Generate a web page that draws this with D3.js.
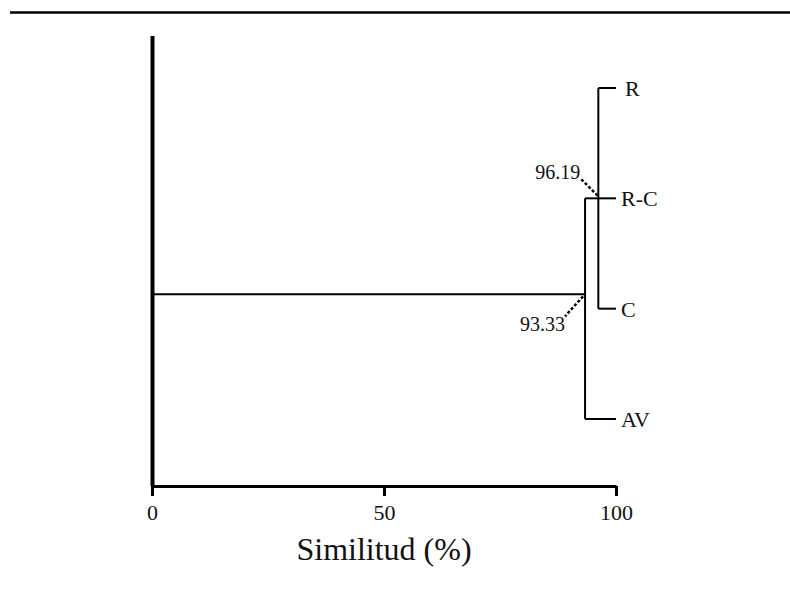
<!DOCTYPE html>
<html>
<head>
<meta charset="utf-8">
<script src="https://cdn.jsdelivr.net/npm/d3@7"></script>
<style>
  body { margin: 0; background: #fff; }
  svg { display: block; font-family: "Liberation Serif", "Times New Roman", serif; }
</style>
</head>
<body>
<div id="chart"></div>
<script>
// leaves, top to bottom
var leaves = ["R", "R-C", "C", "AV"];
// clusters: members and similarity (%) at which they join
var clusterNames = ["RC", "root"];
var clusterSim = [96.19, 93.33];
var clusterMembers = [["R", "R-C", "C"], ["RC", "AV"]];
var tickValues = [0, 50, 100];

var width = 790, height = 590;

var svg = d3.select("#chart").append("svg")
    .attr("width", width)
    .attr("height", height);

// top rule
svg.append("line")
    .attr("x1", 10).attr("x2", width)
    .attr("y1", 12.5).attr("y2", 12.5)
    .attr("stroke", "#000")
    .attr("stroke-width", 2.5);

var x = d3.scaleLinear().domain([0, 100]).range([152, 616]);
var y = d3.scalePoint().domain(leaves).range([88, 419]);
var axisY = 486;

// left axis line
svg.append("line")
    .attr("x1", 152.5).attr("x2", 152.5)
    .attr("y1", 36).attr("y2", axisY)
    .attr("stroke", "#000")
    .attr("stroke-width", 4);

// x axis
var xAxis = svg.append("g")
    .attr("transform", "translate(0," + axisY + ")")
    .call(d3.axisBottom(x).tickValues(tickValues).tickSize(10).tickSizeOuter(0).tickPadding(8));
xAxis.select(".domain").attr("stroke", "#000").attr("stroke-width", 3);
xAxis.selectAll(".tick line").attr("stroke", "#000").attr("stroke-width", 3);
xAxis.selectAll(".tick text")
    .style("font-family", "'Liberation Serif', serif")
    .style("font-size", "22px")
    .attr("fill", "#111");

svg.append("text")
    .attr("x", x(50))
    .attr("y", 560)
    .attr("text-anchor", "middle")
    .style("font-size", "32px")
    .attr("fill", "#111")
    .text("Similitud (%)");

// dendrogram
var pos = {};
leaves.forEach(function(l) { pos[l] = { x: x(100), y: y(l) }; });

var g = svg.append("g")
    .attr("fill", "none")
    .attr("stroke", "#000")
    .attr("stroke-width", 2);

// leaf stubs
leaves.forEach(function(l) {
    var cx = l === "AV" ? x(clusterSim[1]) : x(clusterSim[0]);
    g.append("line")
        .attr("x1", cx).attr("x2", pos[l].x)
        .attr("y1", pos[l].y).attr("y2", pos[l].y);
    svg.append("text")
        .attr("x", pos[l].x + (l === "R" ? 9 : 5))
        .attr("y", pos[l].y + 8)
        .style("font-size", "22px")
        .attr("fill", "#111")
        .text(l);
});

// stem offsets (row units) where each cluster is drawn
var stemRow = { RC: 1, root: 1.87 };
var rowStep = y.step();

clusterNames.forEach(function(name, i) {
    var cx = x(clusterSim[i]);
    var ys = clusterMembers[i].map(function(m) { return pos[m].y; });
    g.append("line")
        .attr("x1", cx).attr("x2", cx)
        .attr("y1", d3.min(ys)).attr("y2", d3.max(ys));
    pos[name] = { x: cx, y: y.range()[0] + stemRow[name] * rowStep };
});

// connector from root to the RC cluster
g.append("line")
    .attr("x1", pos.root.x).attr("x2", pos.RC.x)
    .attr("y1", pos.RC.y).attr("y2", pos.RC.y);

// root branch from the axis
g.append("line")
    .attr("x1", 152).attr("x2", pos.root.x)
    .attr("y1", pos.root.y).attr("y2", pos.root.y);

// similarity labels with dotted leaders
var rc = pos.RC;
g.append("line")
    .attr("x1", rc.x - 17).attr("y1", rc.y - 19)
    .attr("x2", rc.x).attr("y2", rc.y - 2)
    .attr("stroke-width", 2.5)
    .attr("stroke-dasharray", "3,2");
svg.append("text")
    .attr("x", rc.x - 18).attr("y", rc.y - 19)
    .attr("text-anchor", "end")
    .style("font-size", "20px")
    .attr("fill", "#111")
    .text(clusterSim[0].toFixed(2));

var rt = pos.root;
g.append("line")
    .attr("x1", rt.x - 2).attr("y1", rt.y + 2)
    .attr("x2", rt.x - 20).attr("y2", rt.y + 22)
    .attr("stroke-width", 2.5)
    .attr("stroke-dasharray", "3,2");
svg.append("text")
    .attr("x", rt.x - 20).attr("y", rt.y + 37)
    .attr("text-anchor", "end")
    .style("font-size", "20px")
    .attr("fill", "#111")
    .text(clusterSim[1].toFixed(2));
</script>
</body>
</html>
